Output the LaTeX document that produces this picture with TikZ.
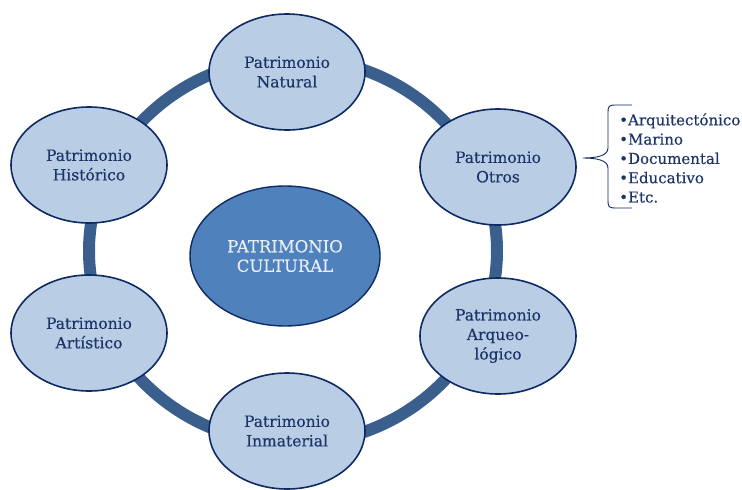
\documentclass[tikz,border=0pt]{standalone}
\usepackage{fontspec}
\setmainfont[FakeBold=0.35]{DejaVu Serif}
\usetikzlibrary{shapes.geometric}
\definecolor{petalfill}{HTML}{B9CDE5}
\definecolor{edgecol}{HTML}{0F2A63}
\definecolor{txtcol}{HTML}{1C3568}
\definecolor{ringcol}{HTML}{3A5F8D}
\definecolor{corefill}{HTML}{4F81BD}
\definecolor{coretxt}{HTML}{E8EEF7}
\begin{document}
\begin{tikzpicture}[x=1pt,y=-1pt,
  petal/.style={ellipse, draw=edgecol, line width=1.6pt, fill=petalfill,
    minimum width=156pt, minimum height=116pt, inner sep=0pt, align=center,
    text=txtcol, font=\fontsize{15.5}{19.5}\selectfont},
  core/.style={ellipse, draw=edgecol, line width=1.4pt, fill=corefill,
    minimum width=190pt, minimum height=140pt, inner sep=0pt, align=center,
    text=coretxt, font=\fontsize{16.5}{19.5}\selectfont},
  ringline/.style={draw=ringcol, line width=12pt},
  bracestyle/.style={draw=edgecol, line width=0.9pt},
  listtext/.style={align=left, anchor=west, inner sep=0pt, text=txtcol,
    font=\fontsize{15}{19.3}\selectfont}]
\useasboundingbox (0,0) rectangle (742,490);
% ring
\path[ringline] (293,251) ellipse [x radius=204, y radius=193];
% nodes
\node[core] (center) at (285,256) {PATRIMONIO\\CULTURAL};
\node[petal] (natural) at (287,72) {Patrimonio\\Natural};
\node[petal] (otros) at (498,167) {Patrimonio\\Otros};
\node[petal] (arqueo) at (498,336) {Patrimonio\\Arqueo-\\lógico};
\node[petal] (inmat) at (287,431) {Patrimonio\\Inmaterial};
\node[petal] (artis) at (89,333) {Patrimonio\\Artístico};
\node[petal] (histo) at (89,165) {Patrimonio\\Histórico};
% brace and list
\coordinate (btop) at (632,105);
\coordinate (bbot) at (632,208);
\coordinate (btip) at (583,158);
\draw[bracestyle] (btop) -- (618,105) .. controls (608,105) .. (608,115)
  -- (608,148) .. controls (608,156) and (596,158) .. (btip)
  .. controls (596,158) and (608,160) .. (608,168)
  -- (608,198) .. controls (608,208) .. (618,208) -- (bbot);
\node[listtext] (list) at (619,158) {•Arquitectónico\\•Marino\\•Documental\\•Educativo\\•Etc.};
\end{tikzpicture}
\end{document}
